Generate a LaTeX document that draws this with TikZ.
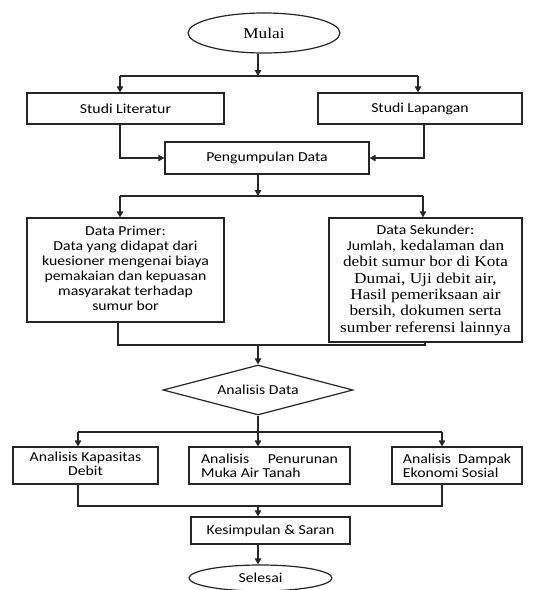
\documentclass[tikz,border=0pt]{standalone}
\usepackage{fontspec}
\usepackage{graphicx}
\setmainfont{Carlito}
\newfontfamily\carl{Carlito}
\newfontfamily\serifx{Liberation Serif}
\usetikzlibrary{shapes.geometric,arrows.meta}
\newcommand\myCfont{\carl\fontsize{13.7}{15}\selectfont}
\newcommand\mySfont{\serifx\fontsize{15}{16.3}\selectfont}
\newcommand\myTfont{\carl\fontsize{13.7}{14}\selectfont}
\newcommand\hs[1]{\scalebox{1.15}[1]{#1}}
\newcommand\lines[1]{\begin{tabular}{@{}c@{}}#1\end{tabular}}
\begin{document}
\begin{tikzpicture}[x=1pt,y=-1pt,
  every node/.style={inner sep=2pt, font=\myCfont, text=black},
  ln/.style={line width=1.2pt, draw=black!85},
  box/.style={draw=black!85, line width=1.2pt},
  arr/.style={ln, -{Triangle[length=6pt,width=6.5pt]}}]
\useasboundingbox (0,0) rectangle (558,590);

% nodes
\node[box, ellipse, minimum width=152pt, minimum height=40pt, font=\mySfont] (mulai) at (264,33) {\hs{Mulai}};
\node[box, rectangle, minimum width=197pt, minimum height=31pt] (lit) at (125.5,108.5) {\hs{Studi Literatur}};
\node[box, rectangle, minimum width=204pt, minimum height=31pt] (lap) at (420,108.5) {\hs{Studi Lapangan}};
\node[box, rectangle, minimum width=204pt, minimum height=32pt] (peng) at (267,158) {\hs{Pengumpulan Data}};
\node[box, rectangle, minimum width=197pt, minimum height=104pt] (prim) at (125.5,270)
  {\hs{\lines{Data Primer:\\Data yang didapat dari\\kuesioner mengenai biaya\\pemakaian dan kepuasan\\masyarakat terhadap\\sumur bor}}};
\node[box, rectangle, minimum width=193pt, minimum height=124pt, font=\mySfont] (sek) at (425.5,280)
  {\hs{\lines{{\myCfont Data Sekunder:}\\{\myCfont Jumlah,} kedalaman dan\\debit sumur bor di Kota\\Dumai, Uji debit air,\\Hasil pemeriksaan air\\bersih, dokumen serta\\sumber referensi lainnya}}};
\node[box, diamond, aspect=3.8, minimum width=190pt, minimum height=50pt, inner sep=0pt] (dia) at (258,390) {\hs{Analisis Data}};
\node[box, rectangle, minimum width=145pt, minimum height=37pt, font=\myTfont] (kap) at (85.5,465.5)
  {\hs{\lines{Analisis Kapasitas\\Debit}}};
\node[box, rectangle, minimum width=161pt, minimum height=37pt, font=\myTfont] (pen) at (269.5,465.5)
  {\hs{\parbox{119pt}{\raggedright Analisis\hfill Penurunan\\Muka Air Tanah}}};
\node[box, rectangle, minimum width=130pt, minimum height=37pt, font=\myTfont] (dam) at (457,465.5)
  {\hs{\parbox{94pt}{\raggedright Analisis\hfill Dampak\\Ekonomi Sosial}}};
\node[box, rectangle, minimum width=159pt, minimum height=27pt] (kes) at (270.5,530.5) {\hs{Kesimpulan \& Saran}};
\node[box, ellipse, minimum width=143pt, minimum height=26pt] (sel) at (260.5,578) {\hs{Selesai}};

% connectors
\coordinate (j1) at (258,76);
\coordinate (a1) at (120,76);
\coordinate (a2) at (418,76);
\draw[arr] (mulai.south -| j1) -- (j1);
\draw[ln] (a1) -- (a2);
\draw[arr] (a1) -- (a1 |- lit.north);
\draw[arr] (a2) -- (a2 |- lap.north);

\coordinate (b1) at (120,0);
\coordinate (b2) at (424,0);
\draw[arr] (lit.south -| b1) |- (peng.west);
\draw[arr] (lap.south -| b2) |- (peng.east);

\coordinate (c0) at (258,196);
\coordinate (c1) at (120,196);
\coordinate (c2) at (423,196);
\draw[arr] (peng.south -| c0) -- (c0);
\draw[ln] (c1) -- (c2);
\draw[arr] (c1) -- (c1 |- prim.north);
\draw[arr] (c2) -- (c2 |- sek.north);

\coordinate (d0) at (258,345);
\coordinate (d1) at (118,345);
\coordinate (d2) at (425,345);
\draw[ln] (prim.south -| d1) -- (d1) -- (d2) -- (sek.south -| d2);
\draw[arr] (d0) -- (dia.north);

\coordinate (e0) at (258,432);
\coordinate (e1) at (78,432);
\coordinate (e2) at (442,432);
\draw[ln] (dia.south) -- (e0);
\draw[ln] (e1) -- (e2);
\draw[arr] (e1) -- (e1 |- kap.north);
\draw[arr] (e0) -- (e0 |- pen.north);
\draw[arr] (e2) -- (e2 |- dam.north);

\coordinate (f0) at (258,506);
\coordinate (f1) at (78,506);
\coordinate (f2) at (442,506);
\draw[ln] (kap.south -| f1) -- (f1) -- (f2) -- (dam.south -| f2);
\draw[arr] (f0) -- (f0 |- kes.north);
\draw[arr] (kes.south -| f0) -- (f0 |- sel.north);
\end{tikzpicture}
\end{document}
